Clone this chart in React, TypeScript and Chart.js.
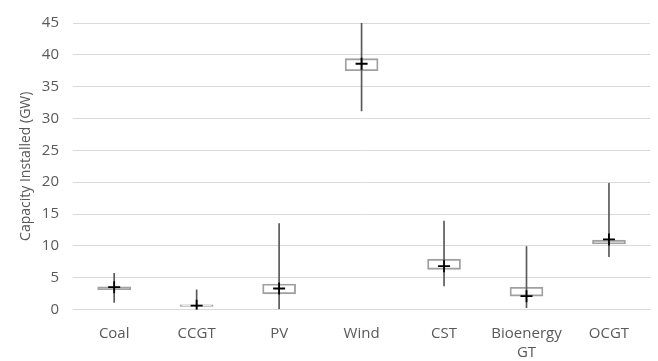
import React, { useEffect, useRef } from "react";
import { Chart, registerables } from "chart.js";

Chart.register(...registerables);

const categories: (string | string[])[] = ["Coal", "CCGT", "PV", "Wind", "CST", ["Bioenergy", "GT"], "OCGT"];
const whiskerMin = [1.1, -0.2, 0.1, 31.2, 3.7, 0.3, 8.3];
const whiskerMax = [5.7, 3.1, 13.5, 45, 13.9, 9.9, 19.8];
const boxLow = [3.1, 0.5, 2.45, 37.5, 6.3, 2.1, 10.3];
const boxHigh = [3.55, 0.72, 4.0, 39.4, 7.9, 3.5, 10.9];
const meanValues = [3.5, 0.6, 3.3, 38.6, 6.8, 2.1, 11.0];
const yTicks = [0, 5, 10, 15, 20, 25, 30, 35, 40, 45];

export default function App() {
  const ref = useRef<HTMLCanvasElement>(null);
  useEffect(() => {
    document.body.style.margin = "0";
    const ctx = ref.current!;
    const chart = new Chart(ctx, {
      type: "bar",
      data: {
        labels: categories as any,
        datasets: [
          {
            type: "line",
            data: meanValues,
            showLine: false,
            pointStyle: "cross",
            pointRadius: 6,
            pointBorderWidth: 1.8,
            pointBorderColor: "#000000",
            pointBackgroundColor: "#000000",
            order: 0,
          } as any,
          {
            type: "bar",
            data: whiskerMin.map((v, i) => [v, whiskerMax[i]]),
            backgroundColor: "#595959",
            borderWidth: 0,
            barThickness: 1,
            grouped: false,
            order: 1,
          } as any,
          {
            type: "bar",
            data: boxLow.map((v, i) => [v, boxHigh[i]]),
            backgroundColor: "rgba(255,255,255,0)",
            borderColor: "#a0a0a0",
            borderWidth: 1.2,
            borderSkipped: false,
            barThickness: 33,
            grouped: false,
            order: 2,
          } as any,
        ],
      },
      options: {
        animation: false,
        responsive: false,
        maintainAspectRatio: false,
        layout: { padding: { top: 18, right: -2, left: 18, bottom: -8 } },
        plugins: { legend: { display: false }, tooltip: { enabled: false } },
        scales: {
          x: {
            grid: { display: false },
            border: { display: false },
            ticks: {
              color: "#595959",
              font: { family: "'Open Sans'", size: 15, lineHeight: 1.25 },
              maxRotation: 0,
              autoSkip: false,
              padding: 7,
            },
          },
          y: {
            min: 0,
            max: 45,
            afterBuildTicks: (axis: any) => {
              axis.ticks = yTicks.map((v) => ({ value: v }));
            },
            grid: { color: "#d9d9d9", lineWidth: 1, drawTicks: false },
            border: { display: false },
            ticks: {
              color: "#595959",
              font: { family: "'Open Sans'", size: 15 },
              padding: 14,
            },
            title: {
              display: true,
              text: "Capacity Installed (GW)",
              color: "#595959",
              font: { family: "'Open Sans'", size: 14 },
              padding: { top: 0, bottom: -7 },
            },
          },
        },
      },
    });
    return () => chart.destroy();
  }, []);
  return (
    <div style={{ width: 658, height: 361 }}>
      <canvas ref={ref} width={658} height={361} style={{ width: 658, height: 361 }} />
    </div>
  );
}
